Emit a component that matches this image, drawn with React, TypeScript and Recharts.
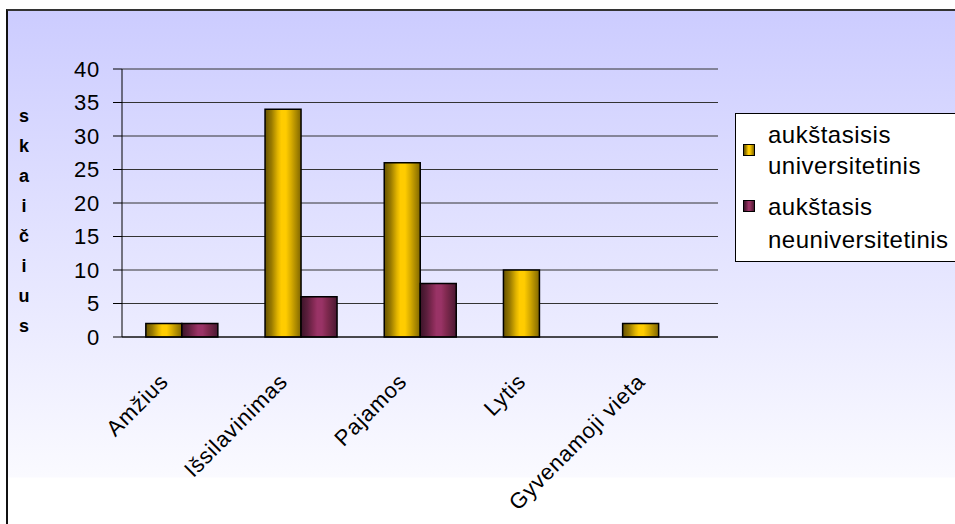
import React from 'react';
import {
  BarChart,
  Bar,
  XAxis,
  YAxis,
  CartesianGrid,
  Legend
} from 'recharts';

const categories = ['Amžius', 'Išsilavinimas', 'Pajamos', 'Lytis', 'Gyvenamoji vieta'];
const universitetinis = [2, 34, 26, 10, 2];
const neuniversitetinis: (number | null)[] = [2, 6, 8, null, null];
const yTicks = [0, 5, 10, 15, 20, 25, 30, 35, 40];
const boundaryTicks = [0, 1, 2, 3, 4, 5];
const seriesNames = ['aukštasisis universitetinis', 'aukštasis neuniversitetinis'];
const yTitle = 'skaičius';

const FONT = '"Liberation Sans", Arial, sans-serif';

const data = categories.map((name, i) => ({
  name,
  u: universitetinis[i],
  n: neuniversitetinis[i]
}));

const goldCss =
  'linear-gradient(90deg, #665200 0%, #997a00 18%, #e0b300 35%, #ffcc00 45%, #ffcc00 58%, #d9ad00 72%, #a68500 88%, #806600 100%)';
const maroonCss =
  'linear-gradient(90deg, #3d1429 0%, #5c1f3d 18%, #852a55 35%, #993366 45%, #993366 58%, #80294f 72%, #61203f 88%, #4a1733 100%)';

function CategoryTick(props: any) {
  const { x, y, payload } = props;
  const ax = x - 12;
  const ay = y + 38;
  return (
    <text
      x={ax}
      y={ay}
      transform={`rotate(-45, ${ax}, ${ay})`}
      textAnchor="end"
      fontSize={22}
      letterSpacing={0.8}
      fontFamily={FONT}
      fill="#000"
    >
      {payload.value}
    </text>
  );
}

function YTitle(props: any) {
  const vb = props.viewBox || { x: 0, y: 69 };
  return (
    <text fontSize={18} fontWeight="bold" fontFamily={FONT} fill="#000" textAnchor="middle">
      {yTitle.split('').map((ch, i) => (
        <tspan key={i} x={vb.x + 24} y={vb.y + 53 + i * 30}>
          {ch}
        </tspan>
      ))}
    </text>
  );
}

function LegendBox() {
  const marker = (bg: string, top: number) => (
    <div
      style={{
        position: 'absolute',
        left: 7,
        top,
        width: 10,
        height: 10,
        border: '1px solid #000',
        background: bg
      }}
    />
  );
  const line = (text: string, top: number) => (
    <div
      style={{
        position: 'absolute',
        left: 32,
        top,
        fontSize: 24,
        lineHeight: '24px',
        letterSpacing: 0.5,
        fontFamily: FONT,
        color: '#000',
        whiteSpace: 'nowrap'
      }}
    >
      {text}
    </div>
  );
  const [a1, a2] = seriesNames[0].split(' ');
  const [b1, b2] = seriesNames[1].split(' ');
  return (
    <div
      style={{
        position: 'relative',
        width: 226,
        height: 147,
        background: '#fff',
        border: '1px solid #000'
      }}
    >
      {marker(goldCss, 30)}
      {line(a1, 9)}
      {line(a2, 40)}
      {marker(maroonCss, 86)}
      {line(b1, 81)}
      {line(b2, 114)}
    </div>
  );
}

export default function App() {
  return (
    <div style={{ position: 'absolute', left: 0, top: 0, width: 955, height: 524, overflow: 'hidden', background: '#fff' }}>
      <div
        style={{
          position: 'absolute',
          left: 6,
          top: 9,
          width: 960,
          height: 530,
          borderTop: '2px solid #333',
          borderLeft: '2px solid #111',
          background: 'linear-gradient(180deg, #ccccff 0px, #fafaff 466px, #ffffff 467px, #ffffff 100%)'
        }}
      />
      <div style={{ position: 'absolute', left: 0, top: 0 }}>
        <BarChart
          width={955}
          height={524}
          data={data}
          margin={{ top: 69, right: 237, bottom: 0, left: 0 }}
          barCategoryGap="20%"
          barGap={0}
        >
          <defs>
            <linearGradient id="gold" x1="0" y1="0" x2="1" y2="0">
              <stop offset="0%" stopColor="#665200" />
              <stop offset="18%" stopColor="#997a00" />
              <stop offset="35%" stopColor="#e0b300" />
              <stop offset="45%" stopColor="#ffcc00" />
              <stop offset="58%" stopColor="#ffcc00" />
              <stop offset="72%" stopColor="#d9ad00" />
              <stop offset="88%" stopColor="#a68500" />
              <stop offset="100%" stopColor="#806600" />
            </linearGradient>
            <linearGradient id="maroon" x1="0" y1="0" x2="1" y2="0">
              <stop offset="0%" stopColor="#3d1429" />
              <stop offset="18%" stopColor="#5c1f3d" />
              <stop offset="35%" stopColor="#852a55" />
              <stop offset="45%" stopColor="#993366" />
              <stop offset="58%" stopColor="#993366" />
              <stop offset="72%" stopColor="#80294f" />
              <stop offset="88%" stopColor="#61203f" />
              <stop offset="100%" stopColor="#4a1733" />
            </linearGradient>
          </defs>
          <CartesianGrid vertical={false} stroke="#333" strokeWidth={1} />
          <XAxis
            xAxisId="bounds"
            type="number"
            domain={[0, 5]}
            ticks={boundaryTicks}
            tick={false}
            tickSize={7}
            height={8}
            axisLine={{ stroke: '#000' }}
            tickLine={{ stroke: '#000' }}
          />
          <XAxis
            xAxisId="cat"
            dataKey="name"
            height={179}
            axisLine={false}
            tickLine={false}
            tickSize={0}
            tickMargin={0}
            interval={0}
            tick={<CategoryTick />}
          />
          <YAxis
            width={122}
            domain={[0, 40]}
            ticks={yTicks}
            interval={0}
            tickSize={9}
            tickMargin={13}
            axisLine={{ stroke: '#000' }}
            tickLine={{ stroke: '#000' }}
            tick={{ fill: '#000', fontSize: 22, fontFamily: FONT, letterSpacing: 0.8 }}
            label={<YTitle />}
          />
          <Legend
            layout="vertical"
            align="center"
            verticalAlign="middle"
            content={() => <LegendBox />}
            wrapperStyle={{ left: 735, top: 113, width: 228, height: 149 }}
          />
          <Bar
            xAxisId="cat"
            dataKey="u"
            name={seriesNames[0]}
            fill="url(#gold)"
            stroke="#000"
            strokeWidth={1.5}
            isAnimationActive={false}
          />
          <Bar
            xAxisId="cat"
            dataKey="n"
            name={seriesNames[1]}
            fill="url(#maroon)"
            stroke="#000"
            strokeWidth={1.5}
            isAnimationActive={false}
          />
        </BarChart>
      </div>
    </div>
  );
}
